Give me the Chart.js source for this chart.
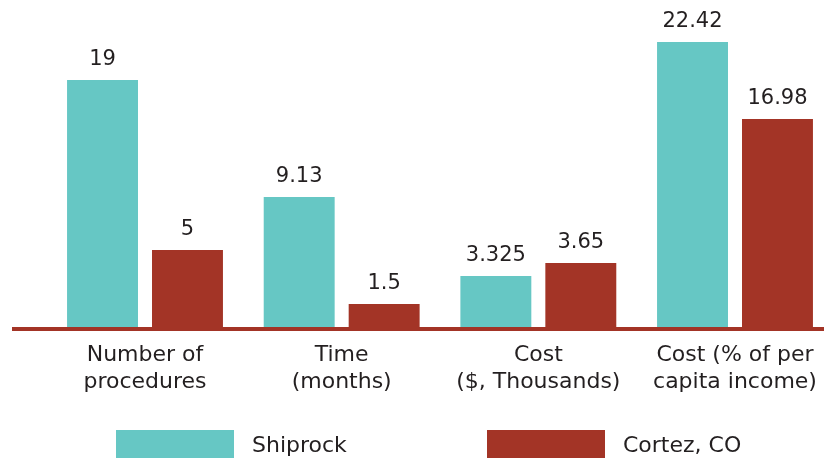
<!DOCTYPE html>
<html>
<head>
<meta charset="utf-8">
<script src="https://cdn.jsdelivr.net/npm/chart.js@4/dist/chart.umd.min.js"></script>
<style>
  html, body { margin: 0; padding: 0; background: #fff; overflow: hidden; }
  #wrap { width: 834px; height: 458px; }
</style>
</head>
<body>
<div id="wrap"><canvas id="chart" width="834" height="458"></canvas></div>
<script>
var categories = [
  ['Number of', 'procedures'],
  ['Time', '(months)'],
  ['Cost', '($, Thousands)'],
  ['Cost (% of per', 'capita income)']
];
var seriesNames = ['Shiprock', 'Cortez, CO'];

// numbers printed above the bars
var shiprockLabels = ['19', '9.13', '3.325', '22.42'];
var cortezLabels = ['5', '1.5', '3.65', '16.98'];

// bar lengths as drawn in the picture (not quite proportional to the printed numbers)
var shiprockHeights = [19.43, 10.23, 4.01, 22.42];
var cortezHeights = [6.06, 1.81, 5.04, 16.36];

var teal = '#66c7c4';
var red = '#a33426';
var ink = '#231f20';
var fontName = '"DejaVu Sans", sans-serif';

var extras = {
  id: 'extras',
  beforeDatasetsDraw: function(chart) {
    var ctx = chart.ctx;
    var y0 = chart.scales.y.getPixelForValue(0);
    ctx.save();
    ctx.fillStyle = red;
    ctx.fillRect(12, y0, chart.width - 12, 4);
    ctx.restore();
  },
  afterDatasetsDraw: function(chart) {
    var ctx = chart.ctx;
    ctx.save();
    ctx.fillStyle = ink;
    ctx.font = '21px ' + fontName;
    ctx.textAlign = 'center';
    ctx.textBaseline = 'alphabetic';
    chart.data.datasets.forEach(function(ds, i) {
      chart.getDatasetMeta(i).data.forEach(function(bar, j) {
        ctx.fillText(ds.valueLabels[j], bar.x, bar.y - 15);
      });
    });

    // legend along the bottom edge
    ctx.textAlign = 'left';
    ctx.font = '22px ' + fontName;
    chart.data.datasets.forEach(function(ds, i) {
      var x = 116 + i * 371;
      ctx.fillStyle = ds.backgroundColor;
      ctx.fillRect(x, 430, 118, 30);
      ctx.fillStyle = ink;
      ctx.fillText(ds.label, x + 136, 452);
    });
    ctx.restore();
  }
};

new Chart(document.getElementById('chart'), {
  type: 'bar',
  data: {
    labels: categories,
    datasets: [
      { label: seriesNames[0], data: shiprockHeights, valueLabels: shiprockLabels, backgroundColor: teal },
      { label: seriesNames[1], data: cortezHeights, valueLabels: cortezLabels, backgroundColor: red }
    ]
  },
  options: {
    responsive: false,
    animation: false,
    devicePixelRatio: 1,
    categoryPercentage: 0.864,
    barPercentage: 0.835,
    layout: { padding: { left: 46.67, right: 0.67, top: 9.2, bottom: 0 } },
    plugins: {
      legend: { display: false },
      tooltip: { enabled: false }
    },
    scales: {
      x: {
        grid: { display: false, drawTicks: false },
        border: { display: false },
        ticks: {
          color: ink,
          padding: 15,
          maxRotation: 0,
          autoSkip: false,
          font: { family: fontName, size: 22, lineHeight: 1.23 }
        },
        afterFit: function(scale) { scale.height = 131; }
      },
      y: {
        display: false,
        min: 0,
        max: 25
      }
    }
  },
  plugins: [extras]
});
</script>
</body>
</html>
